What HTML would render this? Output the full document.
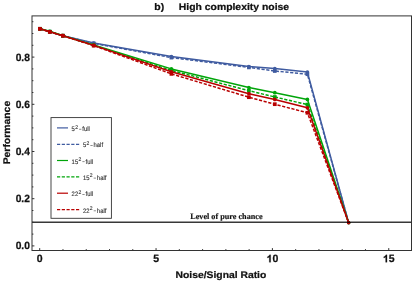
<!DOCTYPE html>
<html><head><meta charset="utf-8"><title>chart</title>
<style>
html,body{margin:0;padding:0;background:#fff;}
svg{display:block;will-change:transform;}
text{font-family:"Liberation Sans",sans-serif;text-rendering:geometricPrecision;}
.b{font-weight:bold;fill:#111;stroke:#111;stroke-width:0.25px;}
.lg{fill:#333;stroke:#333;stroke-width:0.12px;}
.sr{font-family:"Liberation Serif",serif;font-weight:bold;font-size:8.2px;fill:#111;stroke:#111;stroke-width:0.15px;}
</style></head><body>
<svg width="413" height="281" viewBox="0 0 413 281">
<rect x="0" y="0" width="413" height="281" fill="#fff"/>
<polyline points="39.9,28.8 49.8,31.6 62.85,35.7 93.7,43.0 171.4,56.6 248.9,66.5 274.8,68.6 307.4,72.1 348.5,222.3" fill="none" stroke="#3f5ba0" stroke-width="1.5" stroke-linejoin="round"/>
<circle cx="39.9" cy="28.8" r="1.85" fill="#3f5ba0"/>
<circle cx="49.8" cy="31.6" r="1.85" fill="#3f5ba0"/>
<circle cx="62.85" cy="35.7" r="1.85" fill="#3f5ba0"/>
<circle cx="93.7" cy="43.0" r="1.85" fill="#3f5ba0"/>
<circle cx="171.4" cy="56.6" r="1.85" fill="#3f5ba0"/>
<circle cx="248.9" cy="66.5" r="1.85" fill="#3f5ba0"/>
<circle cx="274.8" cy="68.6" r="1.85" fill="#3f5ba0"/>
<circle cx="307.4" cy="72.1" r="1.85" fill="#3f5ba0"/>
<circle cx="348.65" cy="222.65" r="1.7" fill="#3f5ba0"/>
<polyline points="39.9,28.8 49.8,31.7 62.85,35.8 93.7,43.4 171.4,57.6 248.9,67.4 274.8,71.0 307.4,74.2 348.5,222.3" fill="none" stroke="#3f5ba0" stroke-width="1.5" stroke-linejoin="round" stroke-dasharray="3.2 1.6"/>
<rect x="38.05" y="26.95" width="3.7" height="3.7" fill="#3f5ba0"/>
<rect x="47.95" y="29.85" width="3.7" height="3.7" fill="#3f5ba0"/>
<rect x="61.00" y="33.95" width="3.7" height="3.7" fill="#3f5ba0"/>
<rect x="91.85" y="41.55" width="3.7" height="3.7" fill="#3f5ba0"/>
<rect x="169.55" y="55.75" width="3.7" height="3.7" fill="#3f5ba0"/>
<rect x="247.05" y="65.55" width="3.7" height="3.7" fill="#3f5ba0"/>
<rect x="272.95" y="69.15" width="3.7" height="3.7" fill="#3f5ba0"/>
<rect x="305.55" y="72.35" width="3.7" height="3.7" fill="#3f5ba0"/>
<circle cx="348.65" cy="222.65" r="1.7" fill="#3f5ba0"/>
<polyline points="39.9,28.8 49.8,31.3 62.85,35.6 93.7,45.0 171.4,68.9 248.9,87.6 274.8,92.7 307.4,99.4 348.5,222.3" fill="none" stroke="#00a50a" stroke-width="1.5" stroke-linejoin="round"/>
<circle cx="39.9" cy="28.8" r="1.85" fill="#00a50a"/>
<circle cx="49.8" cy="31.3" r="1.85" fill="#00a50a"/>
<circle cx="62.85" cy="35.6" r="1.85" fill="#00a50a"/>
<circle cx="93.7" cy="45.0" r="1.85" fill="#00a50a"/>
<circle cx="171.4" cy="68.9" r="1.85" fill="#00a50a"/>
<circle cx="248.9" cy="87.6" r="1.85" fill="#00a50a"/>
<circle cx="274.8" cy="92.7" r="1.85" fill="#00a50a"/>
<circle cx="307.4" cy="99.4" r="1.85" fill="#00a50a"/>
<circle cx="348.65" cy="222.65" r="1.7" fill="#00a50a"/>
<polyline points="39.9,28.8 49.8,31.7 62.85,35.7 93.7,45.3 171.4,70.4 248.9,90.7 274.8,97.0 307.4,104.6 348.5,222.3" fill="none" stroke="#00a50a" stroke-width="1.5" stroke-linejoin="round" stroke-dasharray="3.2 1.6"/>
<rect x="38.05" y="26.95" width="3.7" height="3.7" fill="#00a50a"/>
<rect x="47.95" y="29.85" width="3.7" height="3.7" fill="#00a50a"/>
<rect x="61.00" y="33.85" width="3.7" height="3.7" fill="#00a50a"/>
<rect x="91.85" y="43.45" width="3.7" height="3.7" fill="#00a50a"/>
<rect x="169.55" y="68.55" width="3.7" height="3.7" fill="#00a50a"/>
<rect x="247.05" y="88.85" width="3.7" height="3.7" fill="#00a50a"/>
<rect x="272.95" y="95.15" width="3.7" height="3.7" fill="#00a50a"/>
<rect x="305.55" y="102.75" width="3.7" height="3.7" fill="#00a50a"/>
<circle cx="348.65" cy="222.65" r="1.7" fill="#00a50a"/>
<polyline points="39.9,28.8 49.8,31.8 62.85,35.7 93.7,45.4 171.4,71.8 248.9,93.7 274.8,99.4 307.4,107.8 348.5,222.3" fill="none" stroke="#b90000" stroke-width="1.5" stroke-linejoin="round"/>
<circle cx="39.9" cy="28.8" r="1.85" fill="#b90000"/>
<circle cx="49.8" cy="31.8" r="1.85" fill="#b90000"/>
<circle cx="62.85" cy="35.7" r="1.85" fill="#b90000"/>
<circle cx="93.7" cy="45.4" r="1.85" fill="#b90000"/>
<circle cx="171.4" cy="71.8" r="1.85" fill="#b90000"/>
<circle cx="248.9" cy="93.7" r="1.85" fill="#b90000"/>
<circle cx="274.8" cy="99.4" r="1.85" fill="#b90000"/>
<circle cx="307.4" cy="107.8" r="1.85" fill="#b90000"/>
<circle cx="348.65" cy="222.65" r="1.7" fill="#b90000"/>
<polyline points="39.9,28.8 49.8,31.9 62.85,35.7 93.7,45.6 171.4,73.9 248.9,97.2 274.8,104.2 307.4,112.8 348.5,222.3" fill="none" stroke="#b90000" stroke-width="1.5" stroke-linejoin="round" stroke-dasharray="3.2 1.6"/>
<rect x="38.05" y="26.95" width="3.7" height="3.7" fill="#b90000"/>
<rect x="47.95" y="30.05" width="3.7" height="3.7" fill="#b90000"/>
<rect x="61.00" y="33.85" width="3.7" height="3.7" fill="#b90000"/>
<rect x="91.85" y="43.75" width="3.7" height="3.7" fill="#b90000"/>
<rect x="169.55" y="72.05" width="3.7" height="3.7" fill="#b90000"/>
<rect x="247.05" y="95.35" width="3.7" height="3.7" fill="#b90000"/>
<rect x="272.95" y="102.35" width="3.7" height="3.7" fill="#b90000"/>
<rect x="305.55" y="110.95" width="3.7" height="3.7" fill="#b90000"/>
<circle cx="348.65" cy="222.65" r="1.7" fill="#b90000"/>
<line x1="32.0" y1="222.25" x2="411.5" y2="222.25" stroke="#383838" stroke-width="1.4" style="mix-blend-mode:multiply"/>
<rect x="32.0" y="15.9" width="379.5" height="234.6" fill="none" stroke="#333" stroke-width="1"/>
<path d="M39.70,250.5v-2.4 M62.97,250.5v-1.4 M86.24,250.5v-1.4 M109.51,250.5v-1.4 M132.78,250.5v-1.4 M156.05,250.5v-2.4 M179.32,250.5v-1.4 M202.59,250.5v-1.4 M225.86,250.5v-1.4 M249.13,250.5v-1.4 M272.40,250.5v-2.4 M295.67,250.5v-1.4 M318.94,250.5v-1.4 M342.21,250.5v-1.4 M365.48,250.5v-1.4 M388.75,250.5v-2.4 M32.0,245.90h2.4 M32.0,234.10h1.4 M32.0,222.30h1.4 M32.0,210.50h1.4 M32.0,198.70h2.4 M32.0,186.90h1.4 M32.0,175.10h1.4 M32.0,163.30h1.4 M32.0,151.50h2.4 M32.0,139.70h1.4 M32.0,127.90h1.4 M32.0,116.10h1.4 M32.0,104.30h2.4 M32.0,92.50h1.4 M32.0,80.70h1.4 M32.0,68.90h1.4 M32.0,57.10h2.4 M32.0,45.30h1.4 M32.0,33.50h1.4 M32.0,21.70h1.4" stroke="#333" stroke-width="1" fill="none"/>
<text class="b" x="39.7" y="262.35" font-size="10.5" text-anchor="middle">0</text>
<text class="b" x="156.1" y="262.35" font-size="10.5" text-anchor="middle">5</text>
<path d="M806 0H525V1059Q371 915 162 846V1101Q272 1137 401 1237.5Q530 1338 578 1472H806Z" transform="translate(266.56,262.35) scale(0.00513,-0.00513)" fill="#111" stroke="#111" stroke-width="40"/>
<text class="b" x="272.40" y="262.35" font-size="10.5">0</text>
<path d="M806 0H525V1059Q371 915 162 846V1101Q272 1137 401 1237.5Q530 1338 578 1472H806Z" transform="translate(382.91,262.35) scale(0.00513,-0.00513)" fill="#111" stroke="#111" stroke-width="40"/>
<text class="b" x="388.75" y="262.35" font-size="10.5">5</text>
<text class="b" transform="translate(29.9,249.40) scale(0.975,1)" font-size="10.5" text-anchor="end">0.0</text>
<text class="b" transform="translate(29.9,202.20) scale(0.975,1)" font-size="10.5" text-anchor="end">0.2</text>
<text class="b" transform="translate(29.9,155.00) scale(0.975,1)" font-size="10.5" text-anchor="end">0.4</text>
<text class="b" transform="translate(29.9,107.80) scale(0.975,1)" font-size="10.5" text-anchor="end">0.6</text>
<text class="b" transform="translate(29.9,60.60) scale(0.975,1)" font-size="10.5" text-anchor="end">0.8</text>
<text class="b" transform="translate(154.3,10) scale(1,0.92)" font-size="10.4">b)</text>
<text class="b" transform="translate(178.8,10) scale(1,0.92)" font-size="10.4">High complexity noise</text>
<text class="b" transform="translate(220.9,278.2) scale(1,0.92)" font-size="10.35" text-anchor="middle">Noise/Signal Ratio</text>
<text class="b" transform="translate(10.3,132.6) rotate(-90) scale(1,0.93)" font-size="10.4" text-anchor="middle">Performance</text>
<text class="sr" x="190.2" y="218.8">Level of pure chance</text>
<rect x="51.0" y="117.6" width="60.4" height="100.7" fill="#fff" stroke="#333" stroke-width="0.9"/>
<line x1="57" y1="127.9" x2="68" y2="127.9" stroke="#3f5ba0" stroke-width="1.2"/>
<g transform="translate(71.60,130.90) scale(1,1.1)"><text class="lg" font-size="5.9" x="0" y="0">5</text><text class="lg" font-size="5" x="3.63" y="-2.1">2</text><rect x="7.48" y="-1.85" width="2.3" height="0.55" fill="#444"/><text class="lg" font-size="5.9" x="10.68" y="0">full</text></g>
<line x1="57" y1="144.4" x2="79.2" y2="144.4" stroke="#3f5ba0" stroke-width="1.15" stroke-dasharray="3.2 1.55"/>
<g transform="translate(82.90,147.40) scale(1,1.1)"><text class="lg" font-size="5.9" x="0" y="0">5</text><text class="lg" font-size="5" x="3.63" y="-2.1">2</text><rect x="7.48" y="-1.85" width="2.3" height="0.55" fill="#444"/><text class="lg" font-size="5.9" x="10.68" y="0">half</text></g>
<line x1="57" y1="160.5" x2="68" y2="160.5" stroke="#00a50a" stroke-width="1.2"/>
<g transform="translate(71.60,163.50) scale(1,1.1)"><text class="lg" font-size="5.9" x="0" y="0">15</text><text class="lg" font-size="5" x="6.91" y="-2.1">2</text><rect x="10.76" y="-1.85" width="2.3" height="0.55" fill="#444"/><text class="lg" font-size="5.9" x="13.96" y="0">full</text></g>
<line x1="57" y1="176.8" x2="79.2" y2="176.8" stroke="#00a50a" stroke-width="1.15" stroke-dasharray="3.2 1.55"/>
<g transform="translate(82.90,179.80) scale(1,1.1)"><text class="lg" font-size="5.9" x="0" y="0">15</text><text class="lg" font-size="5" x="6.91" y="-2.1">2</text><rect x="10.76" y="-1.85" width="2.3" height="0.55" fill="#444"/><text class="lg" font-size="5.9" x="13.96" y="0">half</text></g>
<line x1="57" y1="193.2" x2="68" y2="193.2" stroke="#b90000" stroke-width="1.2"/>
<g transform="translate(71.60,196.20) scale(1,1.1)"><text class="lg" font-size="5.9" x="0" y="0">22</text><text class="lg" font-size="5" x="6.91" y="-2.1">2</text><rect x="10.76" y="-1.85" width="2.3" height="0.55" fill="#444"/><text class="lg" font-size="5.9" x="13.96" y="0">full</text></g>
<line x1="57" y1="209.6" x2="79.2" y2="209.6" stroke="#b90000" stroke-width="1.15" stroke-dasharray="3.2 1.55"/>
<g transform="translate(82.90,212.60) scale(1,1.1)"><text class="lg" font-size="5.9" x="0" y="0">22</text><text class="lg" font-size="5" x="6.91" y="-2.1">2</text><rect x="10.76" y="-1.85" width="2.3" height="0.55" fill="#444"/><text class="lg" font-size="5.9" x="13.96" y="0">half</text></g>
</svg></body></html>
